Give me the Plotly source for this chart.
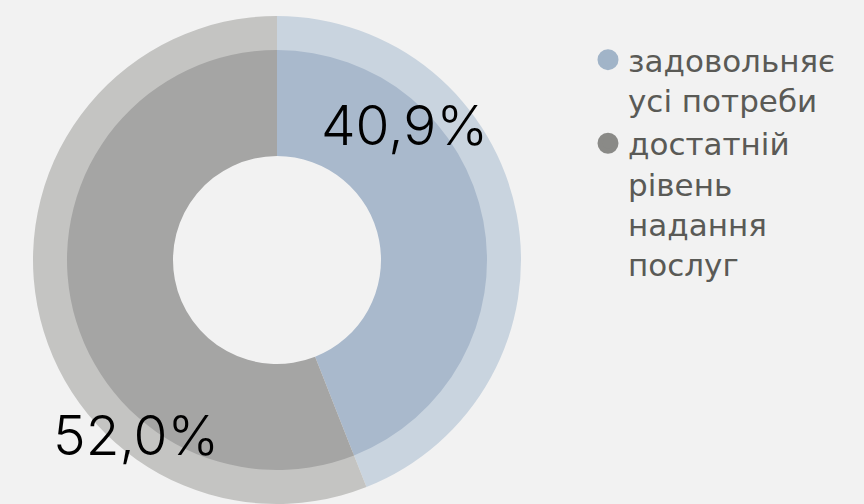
import plotly.graph_objects as go

categories = ["задовольняє<br>усі потреби", "достатній<br>рівень<br>надання<br>послуг"]
values = [40.9, 52.0]
inner_colors = ["#a9b9cc", "#a5a5a4"]
outer_colors = ["#c9d4df", "#c4c4c2"]
legend_colors = ["#a1b4c8", "#8a8a87"]

W, H = 864, 504
cx, cy = 277, 260          # pie centre in pixels (from top-left)
r_out, r_in, r_hole = 244, 210, 104

def dom(r):
    return dict(x=[(cx - r) / W, (cx + r) / W],
                y=[(H - cy - r) / H, (H - cy + r) / H])

fig = go.Figure()
fig.add_trace(go.Pie(values=values, labels=categories, sort=False, direction="clockwise",
                     rotation=0, hole=(r_in - 3) / r_out,
                     marker=dict(colors=outer_colors, line=dict(width=0)),
                     textinfo="none", hoverinfo="skip", showlegend=False,
                     domain=dom(r_out)))
fig.add_trace(go.Pie(values=values, labels=categories, sort=False, direction="clockwise",
                     rotation=0, hole=r_hole / r_in,
                     marker=dict(colors=inner_colors, line=dict(width=0)),
                     textinfo="none", showlegend=False,
                     domain=dom(r_in)))

for name, col in zip(categories, legend_colors):
    fig.add_trace(go.Scatter(x=[None], y=[None], mode="markers", name=name,
                             marker=dict(color=col, size=16, symbol="circle",
                                         line=dict(color=col, width=5))))

label_pos = [(404, 125), (136, 435)]
for v, (px, py) in zip(values, label_pos):
    fig.add_annotation(x=px / W, y=1 - py / H, xref="paper", yref="paper",
                       text=f"{v:.1f}".replace(".", ",") + "%", showarrow=False,
                       font=dict(family="Inter", size=55, color="#000000", weight=300),
                       xanchor="center", yanchor="middle")

fig.update_layout(
    width=W, height=H, margin=dict(l=0, r=0, t=0, b=0),
    paper_bgcolor="#f2f2f2", plot_bgcolor="#f2f2f2",
    xaxis=dict(visible=False), yaxis=dict(visible=False),
    showlegend=True,
    legend=dict(x=588 / W, y=1 - 33 / H, xanchor="left", yanchor="top",
                font=dict(family="DejaVu Sans", size=31, color="#5a5a56"),
                bgcolor="rgba(0,0,0,0)", tracegroupgap=12, valign="top",
                itemsizing="trace"),
)
fig.write_html("out.html")
